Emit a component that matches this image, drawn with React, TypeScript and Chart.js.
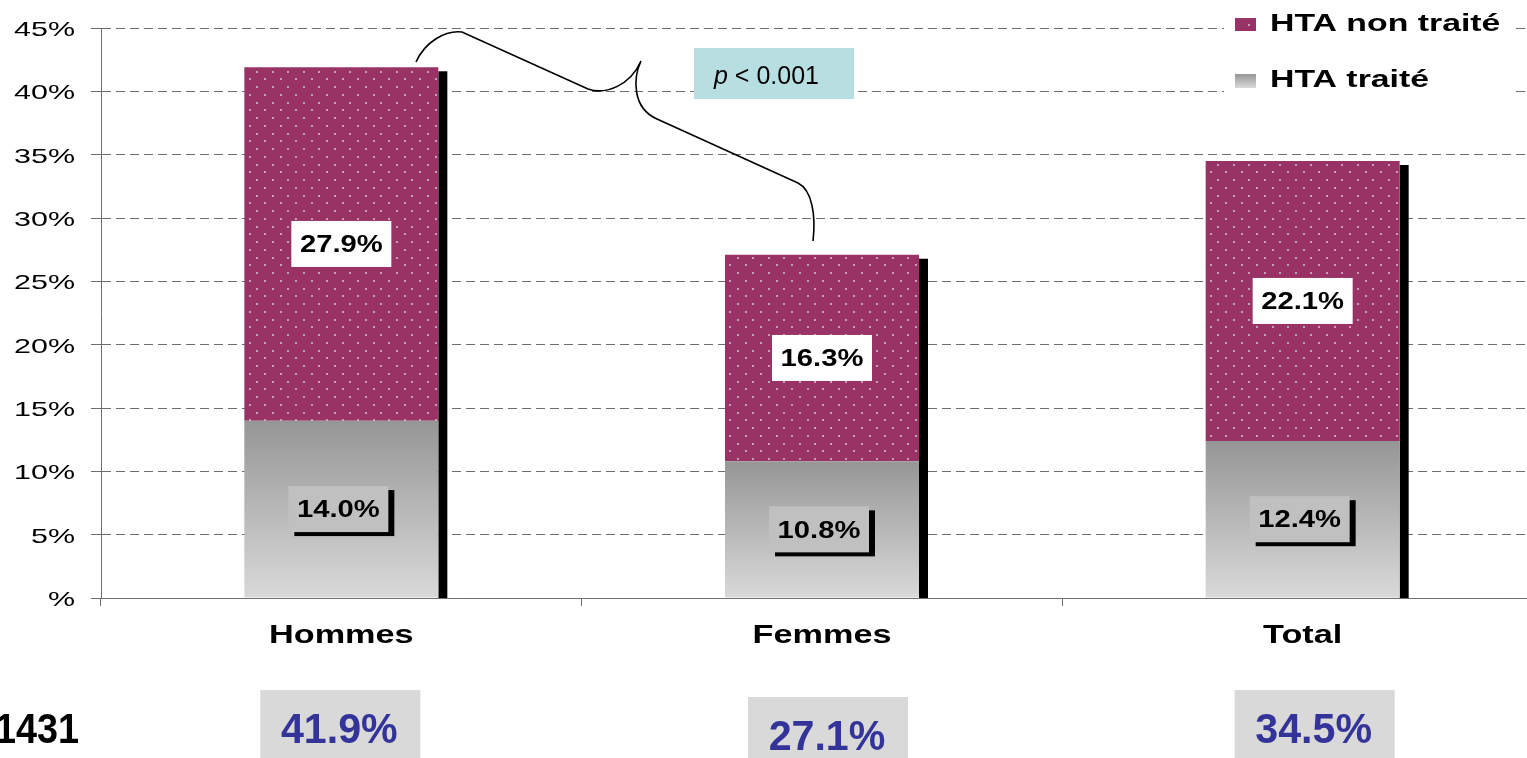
import React, { useEffect, useRef } from "react";
import { Chart, registerables } from "chart.js";

Chart.register(...registerables);

// ---------- data ----------
const categories = ["Hommes", "Femmes", "Total"];
const seriesTreated = "HTA traité";
const seriesUntreated = "HTA non traité";
const treated = [14.0, 10.8, 12.4];
const untreated = [27.9, 16.3, 22.1];
const totals = [41.9, 27.1, 34.5];
const sampleSize = "1431";
const pValueLabel = "< 0.001";
const yMax = 45;
const yStep = 5;

const FONT = '"Liberation Sans", Arial, Helvetica, sans-serif';
const PURPLE = "#993366";

function makeDotPattern(): CanvasPattern | string {
  const c = document.createElement("canvas");
  c.width = 31;
  c.height = 31;
  const g = c.getContext("2d");
  if (!g) return PURPLE;
  g.fillStyle = PURPLE;
  g.fillRect(0, 0, 31, 31);
  g.fillStyle = "#c79db3";
  const pts = [
    [1, 1], [16, 1], [8, 9], [24, 9],
    [1, 16], [16, 16], [8, 24], [24, 24],
  ];
  for (const [x, y] of pts) g.fillRect(x, y, 2, 2);
  const p = g.createPattern(c, "repeat");
  return p || PURPLE;
}

function sText(
  ctx: CanvasRenderingContext2D,
  text: string,
  x: number,
  cy: number,
  size: number,
  weight: string,
  sx: number,
  align: CanvasTextAlign,
  color: string,
  italic = false
) {
  ctx.save();
  ctx.translate(x, cy + 0.358 * size);
  ctx.scale(sx, 1);
  ctx.font = `${italic ? "italic " : ""}${weight} ${size}px ${FONT}`;
  ctx.textAlign = align;
  ctx.textBaseline = "alphabetic";
  ctx.fillStyle = color;
  ctx.fillText(text, 0, 0);
  ctx.restore();
}

function grayGradient(ctx: CanvasRenderingContext2D, top: number, bottom: number) {
  const g = ctx.createLinearGradient(0, top, 0, bottom);
  g.addColorStop(0, "#969696");
  g.addColorStop(1, "#d9d9d9");
  return g;
}

const decorPlugin = {
  id: "decor",
  beforeDatasetsDraw(chart: any) {
    const ctx: CanvasRenderingContext2D = chart.ctx;
    const meta = chart.getDatasetMeta(1);
    const bottom = chart.chartArea.bottom;
    ctx.save();
    ctx.fillStyle = "#000";
    meta.data.forEach((el: any) => {
      const right = el.x + el.width / 2;
      ctx.fillRect(right, el.y + 4, 9, bottom - el.y - 4);
    });
    ctx.restore();
  },
  afterDatasetsDraw(chart: any) {
    const ctx: CanvasRenderingContext2D = chart.ctx;
    const ys = chart.scales.y;
    const xs = chart.scales.x;
    const metaT = chart.getDatasetMeta(0);
    const metaU = chart.getDatasetMeta(1);

    // labels on untreated (white boxes)
    metaU.data.forEach((el: any, i: number) => {
      const cy = (el.y + el.base) / 2;
      const w = 100, h = 46;
      ctx.fillStyle = "#ffffff";
      ctx.fillRect(el.x - w / 2, cy - h / 2, w, h);
      sText(ctx, untreated[i].toFixed(1) + "%", el.x, cy, 23, "bold", 1.27, "center", "#000");
    });

    // labels on treated (gray boxes with shadow)
    metaT.data.forEach((el: any, i: number) => {
      const cy = (el.y + el.base) / 2;
      const cx = el.x - 3;
      const w = 100, h = 46;
      ctx.fillStyle = "#000";
      ctx.fillRect(cx - w / 2 + 6, cy - h / 2 + 4, w, h);
      ctx.fillStyle = "#c0c0c0";
      ctx.fillRect(cx - w / 2, cy - h / 2, w, h);
      sText(ctx, treated[i].toFixed(1) + "%", cx, cy, 23, "bold", 1.27, "center", "#000");
    });

    // y tick labels
    ys.ticks.forEach((t: any) => {
      const py = ys.getPixelForValue(t.value);
      const label = t.value === 0 ? "%" : `${t.value}%`;
      sText(ctx, label, 75, py + 0.5, 21, "normal", 1.45, "right", "#000");
    });

    // category labels
    categories.forEach((c, i) => {
      const px = xs.getPixelForValue(i);
      sText(ctx, c, px, 634, 25, "bold", 1.37, "center", "#000");
    });

    // bracket
    ctx.save();
    ctx.strokeStyle = "#000";
    ctx.lineWidth = 1.6;
    ctx.beginPath();
    ctx.moveTo(416, 62);
    ctx.bezierCurveTo(425, 42, 445, 30, 462, 32);
    ctx.lineTo(588, 89);
    ctx.bezierCurveTo(605, 95, 630, 86, 641, 61);
    ctx.moveTo(641, 61);
    ctx.bezierCurveTo(633, 78, 632, 108, 657, 119);
    ctx.lineTo(798, 183);
    ctx.bezierCurveTo(812, 190, 816, 215, 813, 241);
    ctx.stroke();
    ctx.restore();

    // p-value box
    ctx.fillStyle = "#b7dfe2";
    ctx.fillRect(694, 48, 160, 51);
    ctx.save();
    ctx.font = `italic normal 25px ${FONT}`;
    const pw = ctx.measureText("p").width;
    ctx.restore();
    sText(ctx, "p", 714, 75, 25, "normal", 1, "left", "#000", true);
    sText(ctx, " " + pValueLabel, 714 + pw, 75, 25, "normal", 1, "left", "#000");

    // legend
    ctx.fillStyle = "#ffffff";
    ctx.fillRect(1224, 4, 287, 98);
    ctx.fillStyle = (chart as any).$dotPattern || PURPLE;
    ctx.fillRect(1235, 18, 21, 13);
    ctx.fillStyle = grayGradient(ctx, 74, 88);
    ctx.fillRect(1235, 74, 21, 14);
    sText(ctx, seriesUntreated, 1270, 22, 24.5, "bold", 1.38, "left", "#000");
    sText(ctx, seriesTreated, 1270, 78.5, 24.5, "bold", 1.38, "left", "#000");

    // bottom totals
    const offs = [-1, 6, 12];
    const tops = [690, 697, 690];
    totals.forEach((v, i) => {
      const cx = xs.getPixelForValue(i) + offs[i];
      ctx.fillStyle = "#d9d9d9";
      ctx.fillRect(cx - 80, tops[i], 160, 80);
      sText(ctx, v.toFixed(1) + "%", cx - 1, tops[i] + 37.5, 42, "bold", 0.98, "center", "#333399");
    });
    sText(ctx, sampleSize, 79, 727.5, 42, "bold", 0.9, "right", "#000");
  },
};

export default function App() {
  const ref = useRef<HTMLCanvasElement | null>(null);

  useEffect(() => {
    const canvas = ref.current;
    if (!canvas) return;
    const pattern = makeDotPattern();

    const chart = new Chart(canvas, {
      type: "bar",
      data: {
        labels: categories,
        datasets: [
          {
            label: seriesTreated,
            data: treated,
            backgroundColor: (c: any) => {
              const ch = c.chart;
              const ys = ch.scales && ch.scales.y;
              if (!ys || c.type !== "data") return "#b0b0b0";
              const top = ys.getPixelForValue(treated[c.dataIndex]);
              const bot = ys.getPixelForValue(0);
              if (!isFinite(top) || !isFinite(bot)) return "#b0b0b0";
              return grayGradient(ch.ctx, top, bot);
            },
            borderWidth: 0,
            categoryPercentage: 1,
            barPercentage: 0.4036,
          },
          {
            label: seriesUntreated,
            data: untreated,
            backgroundColor: pattern as any,
            borderWidth: 0,
            categoryPercentage: 1,
            barPercentage: 0.4036,
          },
        ],
      },
      options: {
        responsive: false,
        animation: false,
        devicePixelRatio: 1,
        layout: { padding: { left: 101, right: 2, top: 28, bottom: 160 } },
        plugins: {
          legend: { display: false },
          title: { display: false },
          tooltip: { enabled: false },
        },
        scales: {
          x: {
            stacked: true,
            afterFit: (s: any) => {
              s.height = 0;
            },
            ticks: { display: false },
            grid: {
              offset: true,
              drawOnChartArea: false,
              drawTicks: true,
              tickLength: 8,
              color: "#707070",
              lineWidth: 1,
            },
            border: { display: true, color: "#707070", width: 1 },
          },
          y: {
            stacked: true,
            min: 0,
            max: yMax,
            afterFit: (s: any) => {
              s.width = 0;
            },
            ticks: { display: false, stepSize: yStep },
            grid: {
              drawOnChartArea: true,
              drawTicks: true,
              tickLength: 10,
              color: "#6e6e6e",
              lineWidth: 1,
            },
            border: { display: true, color: "#707070", width: 1, dash: [9, 5] },
          },
        },
      },
      plugins: [decorPlugin],
    });
    (chart as any).$dotPattern = pattern;
    chart.draw();

    return () => {
      chart.destroy();
    };
  }, []);

  return (
    <div
      style={{
        position: "fixed",
        left: 0,
        top: 0,
        width: 1527,
        height: 758,
        overflow: "hidden",
        background: "#ffffff",
      }}
    >
      <canvas ref={ref} width={1545} height={758} style={{ display: "block" }} />
    </div>
  );
}
